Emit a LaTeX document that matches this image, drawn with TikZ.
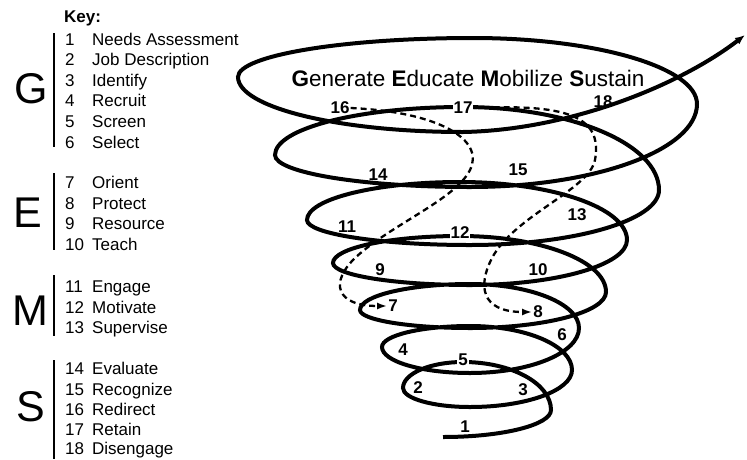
\documentclass[tikz,border=0pt]{standalone}
\usepackage{fontspec}
\setmainfont{Liberation Sans}
\usetikzlibrary{arrows.meta}

\begin{document}
\begin{tikzpicture}[x=1pt,y=-1pt]
    \tikzset{spirale/.style={line width=4pt}}
    \tikzset{pointille/.style={line width=2.3pt, dash pattern=on 6pt off 4pt, -{Latex[length=10pt,width=7pt]}}}
    \tikzset{etiquette/.style={inner sep=1pt, font=\fontsize{17}{17}\selectfont\bfseries}}
    \tikzset{masque/.style={etiquette, fill=white}}
    \tikzset{cle/.style={anchor=base west, inner sep=0pt, font=\fontsize{17}{20}\selectfont}}
    \tikzset{lettre/.style={anchor=base, inner sep=0pt, font=\fontsize{43}{43}\selectfont}}
    \tikzset{barre/.style={line width=2.2pt}}
    \useasboundingbox (0,0) rectangle (747,459);
    % key
    \node[cle, font=\fontsize{17}{20}\selectfont\bfseries] (key) at (64,22) {Key:};
    \node[lettre] (G) at (31,103) {G};
    \node[lettre] (E) at (28,227) {E};
    \node[lettre] (M) at (30,325) {M};
    \node[lettre] (S) at (31,421) {S};
    \draw[barre] (54,33) -- (54,147);
    \draw[barre] (54,173) -- (54,250);
    \draw[barre] (54,275) -- (54,336);
    \draw[barre] (54,360) -- (54,459);
    \node[cle] (k1) at (65,45) {\makebox[27pt][l]{1}Needs Assessment};
    \node[cle] (k2) at (65,65.5) {\makebox[27pt][l]{2}Job Description};
    \node[cle] (k3) at (65,86) {\makebox[27pt][l]{3}Identify};
    \node[cle] (k4) at (65,106.5) {\makebox[27pt][l]{4}Recruit};
    \node[cle] (k5) at (65,127) {\makebox[27pt][l]{5}Screen};
    \node[cle] (k6) at (65,148) {\makebox[27pt][l]{6}Select};
    \node[cle] (k7) at (65,188) {\makebox[27pt][l]{7}Orient};
    \node[cle] (k8) at (65,209) {\makebox[27pt][l]{8}Protect};
    \node[cle] (k9) at (65,229) {\makebox[27pt][l]{9}Resource};
    \node[cle] (k10) at (65,250) {\makebox[27pt][l]{10}Teach};
    \node[cle] (k11) at (65,292) {\makebox[27pt][l]{11}Engage};
    \node[cle] (k12) at (65,313) {\makebox[27pt][l]{12}Motivate};
    \node[cle] (k13) at (65,333) {\makebox[27pt][l]{13}Supervise};
    \node[cle] (k14) at (65,374) {\makebox[27pt][l]{14}Evaluate};
    \node[cle] (k15) at (65,395) {\makebox[27pt][l]{15}Recognize};
    \node[cle] (k16) at (65,415) {\makebox[27pt][l]{16}Redirect};
    \node[cle] (k17) at (65,435) {\makebox[27pt][l]{17}Retain};
    \node[cle] (k18) at (65,454) {\makebox[27pt][l]{18}Disengage};
    % spiral
    \coordinate (depart) at (443,437);
    \coordinate (pointe) at (745,35);
    \draw[spirale, -{Latex[length=10pt,width=8pt]}] (depart)
        arc[start angle=-90, delta angle=90, x radius=108pt, y radius=27pt]
        arc[start angle=0, delta angle=90, x radius=88pt, y radius=48pt]
        arc[start angle=90, delta angle=90, x radius=60pt, y radius=26pt]
        arc[start angle=180, delta angle=90, x radius=67pt, y radius=19pt]
        arc[start angle=-90, delta angle=90, x radius=102pt, y radius=37pt]
        arc[start angle=0, delta angle=90, x radius=102pt, y radius=44pt]
        arc[start angle=90, delta angle=90, x radius=88pt, y radius=21pt]
        arc[start angle=180, delta angle=90, x radius=88pt, y radius=26pt]
        arc[start angle=-90, delta angle=90, x radius=109pt, y radius=45pt]
        arc[start angle=0, delta angle=90, x radius=109pt, y radius=44pt]
        arc[start angle=90, delta angle=90, x radius=110pt, y radius=26pt]
        arc[start angle=180, delta angle=90, x radius=110pt, y radius=18pt]
        arc[start angle=-90, delta angle=90, x radius=136pt, y radius=36pt]
        arc[start angle=0, delta angle=90, x radius=146pt, y radius=56pt]
        arc[start angle=90, delta angle=90, x radius=127pt, y radius=27pt]
        arc[start angle=180, delta angle=90, x radius=137pt, y radius=22pt]
        arc[start angle=-90, delta angle=90, x radius=157pt, y radius=45pt]
        arc[start angle=0, delta angle=90, x radius=167pt, y radius=58pt]
        arc[start angle=90, delta angle=90, x radius=153pt, y radius=38pt]
        arc[start angle=180, delta angle=90, x radius=163pt, y radius=25pt]
        arc[start angle=-90, delta angle=90, x radius=189pt, y radius=55pt]
        arc[start angle=0, delta angle=90, x radius=196pt, y radius=83pt]
        arc[start angle=90, delta angle=90, x radius=188pt, y radius=48pt]
        arc[start angle=180, delta angle=90, x radius=195pt, y radius=32pt]
        arc[start angle=-90, delta angle=90, x radius=227pt, y radius=83pt]
        arc[start angle=0, delta angle=90, x radius=224pt, y radius=66pt]
        arc[start angle=90, delta angle=90, x radius=235pt, y radius=39pt]
        arc[start angle=180, delta angle=90, x radius=225pt, y radius=55pt]
        .. controls (570,130) and (680,85) .. (pointe);
    \node[font=\fontsize{22.5}{24}\selectfont, inner sep=0pt] (titre) at (468,78)
        {\textbf{G}enerate \textbf{E}ducate \textbf{M}obilize \textbf{S}ustain};
    % numbers
    \node[etiquette] (n1) at (465,427) {1};
    \node[etiquette] (n2) at (418,388) {2};
    \node[etiquette] (n3) at (523,390) {3};
    \node[etiquette] (n4) at (403,350) {4};
    \node[masque] (n5) at (463,360) {5};
    \node[etiquette] (n6) at (562,335) {6};
    \node[etiquette] (n7) at (393,306) {7};
    \node[etiquette] (n8) at (538,312) {8};
    \node[etiquette] (n9) at (380,270) {9};
    \node[etiquette] (n10) at (538,270) {10};
    \node[etiquette] (n11) at (347,227) {11};
    \node[masque] (n12) at (460,233) {12};
    \node[etiquette] (n13) at (577,215) {13};
    \node[etiquette] (n14) at (378,175) {14};
    \node[etiquette] (n15) at (518,170) {15};
    \node[etiquette] (n16) at (340,108) {16};
    \node[masque] (n17) at (463,108) {17};
    \node[etiquette] (n18) at (603,102) {18};
    \draw[pointille] (n16.east) .. controls (440,112) and (485,140) .. (470,170)
        .. controls (455,200) and (390,225) .. (355,258)
        .. controls (330,282) and (335,306) .. (n7.west);
    \draw[pointille] (n17.east) .. controls (565,104) and (603,115) .. (595,160)
        .. controls (589,190) and (515,215) .. (492,258)
        .. controls (478,285) and (480,312) .. (n8.west);
\end{tikzpicture}
\end{document}
